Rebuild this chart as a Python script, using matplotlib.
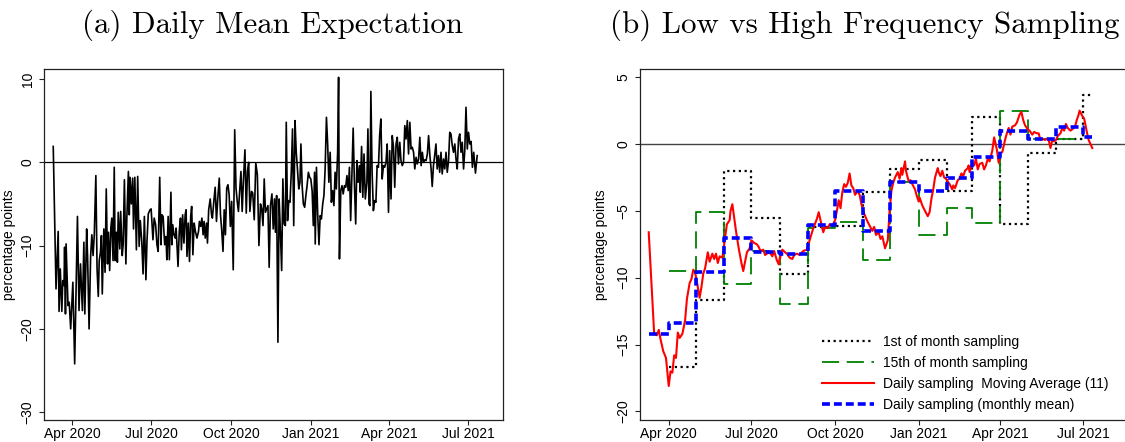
import numpy as np
import pandas as pd
import matplotlib
matplotlib.use("Agg")
import matplotlib.pyplot as plt
import matplotlib.dates as mdates

BASE = pd.Timestamp("2020-04-01")

# ---------------- Panel (a): daily mean expectation ----------------
daily_day = [
    -22, -18.8, -16.3, -15.3, -13.9, -12.1, -11, -9.6, -8.9, -7.9, -7.2, -5, -3.6, -1.9, 0.6, 2.7,
    5.9, 7.7, 9.4, 11.6, 13.3, 14.4, 16.5, 17.6, 19.3, 21.1, 22.5, 23.9, 25.3, 27.1, 28.5, 29.9,
    31, 32.4, 33.5, 34.5, 36.3, 37.7, 39.1, 40.5, 41.6, 43, 44.4, 45.5, 46.9, 48.3, 49.4, 50.8,
    51.9, 52.9, 54.7, 55.7, 57.5, 58.6, 60, 61.7, 62.8, 64.6, 65.6, 66.5, 68, 69.5, 70.5, 72,
    73.8, 75.3, 77, 78.3, 80, 81.5, 83, 84.8, 86, 87.5, 89.5, 90.8,
    92.9, 94.3, 96, 97.5, 98.9, 100.7, 102.1, 103.2, 104.6, 106.4, 107.9, 108.9, 110.4, 111.8,
    113.6, 114.6, 115.7, 117.1, 118.6, 119.6, 121.8, 123.2, 124.6, 125.7, 127.1, 128.6, 130,
    131.1, 132.1, 133.6, 135, 136.4, 137.5, 138.9, 140.4, 141.8, 143.6, 145.4, 146.4, 147.9,
    149.3, 150.7, 151.8, 153.2, 154.6, 155.7, 157.1, 158.9, 160.4, 161.4, 163.2, 164.6, 166.1,
    167.5, 169.3, 170.7, 172.1, 173.6, 175, 176.4, 177.9, 179.3, 180.7, 182.1, 183.6, 185.4,
    187.1, 188.6, 190, 191.4, 192.9, 194.3, 195.7, 197.1, 198.9, 200.4, 201.8, 203.2, 204.6,
    206.4, 207.9, 209.6, 211.4, 213.2,
    215, 216.8, 218.2, 219.7, 221.1, 222.5, 224, 225.4, 226.8, 228.3, 230, 231.5, 232.9, 234,
    235.4, 236.9, 238.3, 239.7, 241.2, 242.6, 244, 245.5, 246.5, 248, 249.4, 250.8, 252.3,
    253.7, 255.1, 256.6, 258, 259.4, 260.9, 262.3, 263.4, 264.8, 266.2, 267.7, 269.1, 270.5,
    272, 273.4, 274.8, 276.3, 277.7, 279.1, 279.9, 281.3, 282.7, 284.2, 285.6, 287, 288.5,
    289.9, 291.3, 292.8, 294.2, 295.6, 297.1, 298.5, 299.9, 301.4, 302.8, 304.2, 305.7, 306.8,
    307.8, 309.3, 310.7, 312.1, 313.6, 315, 316.4, 317.9, 319.3, 320.7, 322.2, 323.6, 325,
    326.5, 327.9, 329.3, 330.8, 331.8, 333.3, 334.7, 336.1, 337.6, 339.4, 340.6, 341.8, 342.9,
    344, 345.4, 346.9, 348.3, 349.8, 351.2, 352.7, 354.1, 355.5, 357, 358.5, 359.9, 361.4,
    362.8, 364.3, 365.7, 367.2, 368.6, 370.1, 371.5, 373, 374.4, 375.8, 377.3, 378.7, 380.2,
    381.6, 383.1, 384.5, 386, 387.4, 388.9, 390.3, 391.7, 393.2, 394.6, 396.1, 397.5, 399,
    400.4, 401.9, 403.3, 404.7, 406.2, 407.6, 409.1, 410.5, 412, 413.4, 414.7, 416.1, 417.5,
    419, 420.4, 421.9, 423.3, 424.8, 426.2, 427.7, 429.1, 430.6, 432, 433.5, 434.9, 436.3,
    437.8, 439.2, 440.7, 442.1, 443.5, 445, 446.4, 447.9, 449.3, 450.8, 452.2, 453.6, 455.1,
    456.5, 458, 459.5, 461, 462.5, 464.5, 466.5,
]
daily_val = [
    1.9, -15.2, -8.3, -17.9, -12.8, -17.9, -14.2, -14.8, -10.2, -18.2, -9.8, -17.2, -16.8, -20, -14.4, -24.2,
    -6.5, -17.8, -12.2, -17.8, -9.6, -18.2, -8, -11.4, -20, -11.2, -8.7, -11.2, -8.7, -1.6, -12.8, -16.1,
    -11.8, -10.8, -8.8, -15.8, -8, -13.2, -3.2, -12.2, -8.4, -13, -7.8, -6.7, -11.8, -0.6, -11.8, -8.4,
    -12, -6, -10.4, -5.9, -11.2, -9.8, -2.1, -12.2, -6.7, -1.1, -6.3, -1.8, -5, -1.9, -8, -1.8,
    -10.5, -1.7, -10.1, -7, -9.5, -13.4, -6.5, -14.1, -9.5, -6.2, -5.7, -5.6,
    -9.3, -6.7, -7.5, -9.9, -10.7, -1.8, -9.9, -6.3, -6.5, -9.9, -8.9, -11.7, -6.5, -11.7,
    -3.6, -9.9, -7.5, -8.7, -9.1, -7.9, -12.5, -8.3, -6.7, -10.5, -6.3, -9.7, -6.3,
    -5.7, -11.3, -7.3, -11.9, -6.5, -5.3, -11.1, -7.3, -8.3, -9.1, -8.3, -7.1, -7.7,
    -6.7, -8.7, -7.1, -9.1, -7.3, -9.7, -5.7, -4.4, -6.3, -6.7, -4.5, -3, -7.1,
    -4.5, -1.9, -6.3, -8.1, -10.7, -5.7, -8.7, -3.1, -2.7, -3.9, -7.7, -4.7, -12.9,
    3.9, -3.1, -4.7, -5.9, -3.3, -1.1, -5.9, -2.3, 1.5, -6.1, -1.1, 0, -5.9,
    -3.5, -3.7, -6.9, -0.1, -1.5,
    -10, -5, -5.6, -7.6, -2, -6, -5.6, -5.2, -12.6, -5.2, -3.8, -8, -4.4, -8.4,
    -4, -21.6, -4.4, -8.2, -13, -2, -7.4, -7.6, 4.8, -7, -4.6, -4.8, -1.2,
    4, -7.6, 5, 1.2, -0.8, -3.2, -2.4, 2.2, -2.8, -5, -5.4, -4, -2.8,
    -1.2, -1.8, -2, -3.4, -7.6, -1.2, -9.8, -0.6, -6.2, -9.9, -6.4, -6.8, -5,
    -4, -0.8, 5.4, 2.2, -2.4, 1.2, -4.8, -3.4, -5.2, -1.2, -3.2, 1.2, 10.2,
    -11.6, -3.4, -2.8, -3.8, -2.8, -3, -1.6, -3.4, -0.6, -7, -1.2, 4.1, -2.4,
    -7.4, 0.2, -2.4, -0.4, -3.6, 1.9, -4.2, 1, -4.4, -2.4, 4, -5, -5.2,
    8.5, -1.2, -5.8, -4.6, -4.8, -0.4, -0.6, 3.2, 5.2, -2, -0.4, -0.6, 0,
    2.2, -6, 1.4, -4.4, 3.2, 1.8, -3, 2.2, 3, -0.2, 2.4, 0.2, -0.4,
    0, 4.4, 2.8, 5, 1, 4.8, 1.6, 1.8, 1.2, -0.8, 0.6, -0.2, 0.4,
    3, -0.4, 1.2, 0, 0.3, 0.2, 1, 3.2, 0.8, -0.8, -2.9, -0.4, 0.8,
    2.2, -0.8, 0.8, -1.2, 1.2, -1.4, 0.4, -0.8, 1.2, -1.2, 0.2, 3.6, 3.4,
    2, 1.2, 2.2, 0.4, -0.8, 2.8, 3.4, 1.2, 2.4, -0.8, 1.4, 6.6, 1.6,
    3.6, 2.2, 2.5, -0.6, 1.2, -1.3, 0.8,
]

# ---------------- Panel (b): sampling comparison ----------------
first_months = ["2020-04-01", "2020-05-01", "2020-06-01", "2020-07-01", "2020-08-01", "2020-09-01",
                "2020-10-01", "2020-11-01", "2020-12-01", "2021-01-01", "2021-02-01", "2021-03-01",
                "2021-04-01", "2021-05-01", "2021-06-01", "2021-07-01"]
first_vals = [-16.7, -11.7, -2.0, -5.5, -9.75, -6.2, -6.1, -3.6, -1.9, -1.2, -3.5, 2.0, -5.95, -0.7, 0.35, 3.7]

mid_months = ["2020-04-01", "2020-05-01", "2020-06-01", "2020-07-01", "2020-08-01", "2020-09-01",
              "2020-10-01", "2020-11-01", "2020-12-01", "2021-01-01", "2021-02-01", "2021-03-01",
              "2021-04-01", "2021-05-01", "2021-06-01"]
mid_vals = [-9.5, -5.1, -10.5, -8.0, -12.0, -6.25, -5.8, -8.7, -2.85, -6.8, -4.8, -5.9, 2.45, 0.4, 0.35]

mean_months = ["2020-03-10", "2020-04-01", "2020-05-01", "2020-06-01", "2020-07-01", "2020-08-01",
               "2020-09-01", "2020-10-01", "2020-11-01", "2020-12-01", "2021-01-01", "2021-02-01",
               "2021-03-01", "2021-04-01", "2021-05-01", "2021-06-01", "2021-07-01"]
mean_vals = [-14.2, -13.4, -9.6, -7.0, -8.05, -8.2, -6.05, -3.5, -6.5, -2.85, -3.5, -2.55, -1.0, 1.0, 0.4, 1.25, 0.55]

series_end = "2021-07-11"
mid_end = "2021-07-01"

ma_day = [
    -22, -16, -13, -11, -9, -6, -3, 0, 2, 4, 6, 8, 10, 12, 15, 18, 20, 23, 25, 27, 29, 31, 34, 36,
    38, 40, 43, 45, 48, 50, 52, 54, 56, 59, 62, 64, 67, 68, 70, 72, 74, 77, 80, 82, 84, 86, 89, 91,
    94, 97, 99, 101, 104, 106, 108, 111, 114, 116, 119, 121, 122, 125, 128, 130, 133, 136, 138, 141,
    144, 148, 152, 155, 159, 163, 165, 167, 170, 172, 175, 177, 180, 183, 185, 187, 189, 191, 193,
    195, 197, 199, 201, 203, 205, 208, 210, 212, 215, 218, 221, 224, 226, 228, 231, 233, 235, 238,
    241, 243, 245, 247, 249, 252, 254, 256, 257, 260, 261, 264, 266, 268, 271, 273, 275, 276, 279,
    282, 285, 287, 289, 291, 293, 296, 297, 299, 301, 303, 305, 307, 309, 312, 313, 315, 318, 320,
    322, 324, 326, 329, 330, 331, 334, 336, 338, 340, 342, 345, 347, 349, 351, 353, 356, 358, 359,
    361, 363, 365, 367, 370, 372, 374, 376, 378, 381, 383, 386, 388, 390, 392, 395, 397, 400, 402,
    405, 407, 409, 411, 414, 416, 418, 420, 422, 424, 426, 428, 431, 433, 435, 437, 439, 442, 444,
    447, 449, 451, 452, 455, 457, 458, 460, 462, 464, 466,
]
ma_val = [
    -6.6, -14.2, -14.3, -13.9, -14.6, -15.5, -16.0, -18.1, -17.0, -17.1, -15.8, -16.0, -14.1, -14.5,
    -14.2, -13.2, -11.6, -10.4, -10.1, -9.4, -9.6, -10.3, -11.5, -10.7, -9.7, -9.3, -8.1, -8.8, -8.2,
    -8.6, -8.2, -8.9, -8.4, -8.5, -7.0, -6.0, -5.7, -5.0, -4.5, -5.5, -6.5, -7.8, -8.9, -9.5, -8.8,
    -8.1, -7.8, -7.2, -7.4, -7.5, -7.7, -8.0, -7.9, -8.3, -8.2, -8.1, -8.4, -8.0, -8.7, -9.0, -8.6,
    -7.9, -8.1, -8.2, -8.5, -8.6, -8.3, -8.2, -8.3, -8.0, -7.9, -7.2, -6.3, -5.6, -5.1, -5.7, -6.6,
    -6.2, -6.3, -6.0, -6.1, -5.7, -5.0, -4.2, -4.8, -3.6, -3.0, -3.2, -2.9, -2.2, -3.1, -3.3, -3.8,
    -3.5, -3.8, -4.5, -5.2, -5.7, -6.1, -6.5, -6.2, -6.8, -6.6, -7.1, -6.9, -7.8, -7.2, -5.0, -3.5,
    -2.9, -2.5, -2.1, -2.6, -1.8, -2.3, -1.3, -2.0, -2.8, -2.7, -3.0, -3.4, -3.9, -4.3, -4.0, -4.6,
    -5.0, -5.4, -5.1, -4.1, -3.4, -2.5, -1.8, -2.1, -2.4, -2.0, -2.5, -2.6, -2.8, -3.0, -3.4, -3.1,
    -3.3, -2.7, -2.6, -2.2, -2.4, -2.0, -1.8, -1.6, -2.1, -1.4, -1.6, -1.1, -1.9, -1.5, -1.4, -1.9,
    -1.6, -1.1, -1.3, -0.5, 0.5, 0.2, -0.4, -1.4, -0.7, -0.6, 0.3, 0.8, 1.2, 0.7, 1.3, 1.4, 1.6,
    2.2, 2.4, 1.8, 1.4, 1.1, 1.0, 0.7, 0.9, 0.8, 0.8, 0.3, 0.4, 0.3, 0.4, 0.3, -0.3, 0.3, 0.2, 0.3,
    0.6, 0.8, 1.2, 1.0, 1.5, 1.2, 1.0, 1.1, 1.3, 1.8, 2.2, 2.5, 2.1, 1.9, 1.6, 0.9, 0.3, 0.0, -0.3,
]

legend_labels = ["1st of month sampling", "15th of month sampling",
                 "Daily sampling  Moving Average (11)", "Daily sampling (monthly mean)"]
titles = ["(a) Daily Mean Expectation", "(b) Low vs High Frequency Sampling"]
tick_dates = ["2020-04-01", "2020-07-01", "2020-10-01", "2021-01-01", "2021-04-01", "2021-07-01"]

# ---------------- drawing ----------------
W, H = 1125, 442
fig = plt.figure(figsize=(W / 100, H / 100), dpi=100)
SANS = ["Liberation Sans", "DejaVu Sans"]
plt.rcParams["font.family"] = SANS

def px_axes(x0, x1, ytop, ybot):
    return fig.add_axes([x0 / W, 1 - ybot / H, (x1 - x0) / W, (ybot - ytop) / H])

axA = px_axes(44.3, 502.7, 69, 420)
axB = px_axes(640, 1128, 69, 420)

def to_dates(days):
    return BASE + pd.to_timedelta(np.asarray(days, dtype=float), unit="D")

# panel a
axA.plot(to_dates(daily_day), daily_val, color="black", lw=1.2, zorder=3)
axA.axhline(0, color="black", lw=0.9, zorder=2)
axA.set_xlim(BASE + pd.Timedelta(days=-32.3), BASE + pd.Timedelta(days=495.9))
axA.set_ylim(-30.94, 11.2)
axA.set_yticks([-30, -20, -10, 0, 10])

# panel b
def steps(months, vals, end):
    x = list(pd.to_datetime(months)) + [pd.Timestamp(end)]
    y = list(vals) + [vals[-1]]
    return x, y

x1, y1 = steps(first_months, first_vals, series_end)
x2, y2 = steps(mid_months, mid_vals, mid_end)
x4, y4 = steps(mean_months, mean_vals, series_end)

l1, = axB.plot(x1, y1, drawstyle="steps-post", color="black", lw=1.6, dashes=(1.0, 1.6), zorder=3)
l2, = axB.plot(x2, y2, drawstyle="steps-post", color="#008000", lw=1.3, dashes=(9.5, 4.2), zorder=3)
l3, = axB.plot(to_dates(ma_day), ma_val, color="#ff0000", lw=1.5, zorder=4)
l4, = axB.plot(x4, y4, drawstyle="steps-post", color="#0000ff", lw=2.6, dashes=(2.2, 1.1), zorder=5)
axB.axhline(0, color="#444444", lw=1.0, zorder=2)
axB.set_xlim(BASE + pd.Timedelta(days=-31.6), BASE + pd.Timedelta(days=505.3))
axB.set_ylim(-20.64, 5.61)
axB.set_yticks([-20, -15, -10, -5, 0, 5])

fig.legend([l1, l2, l3, l4], legend_labels, loc="upper left",
           bbox_to_anchor=(822 / W, 1 - 335 / H), bbox_transform=fig.transFigure,
           frameon=False, fontsize=10, handlelength=3.75, handletextpad=0.65,
           labelspacing=0.5, borderpad=0, borderaxespad=0)

for ax, lab_x in ((axA, -0.0628), (axB, -0.0656)):
    ax.set_xticks(pd.to_datetime(tick_dates))
    ax.xaxis.set_major_formatter(mdates.DateFormatter("%b %Y"))
    ax.tick_params(axis="both", direction="out", length=3.8, width=0.8, labelsize=10,
                   color="#222222", labelcolor="black")
    ax.tick_params(axis="x", pad=1.2)
    ax.tick_params(axis="y", pad=3)
    for t in ax.get_yticklabels():
        t.set_rotation(90)
        t.set_va("center")
    ax.set_ylabel("percentage points", fontsize=10)
    ax.yaxis.set_label_coords(lab_x, 0.5)
    for s in ax.spines.values():
        s.set_linewidth(0.9)
        s.set_color("#222222")

fig.text(272.5 / W, 1 - 25 / H, titles[0], ha="center", va="center",
         fontsize=22.3, family=["cmr10", "DejaVu Serif"])
fig.text(865 / W, 1 - 25 / H, titles[1], ha="center", va="center",
         fontsize=22.3, family=["cmr10", "DejaVu Serif"])

fig.savefig("out.png", dpi=100)
